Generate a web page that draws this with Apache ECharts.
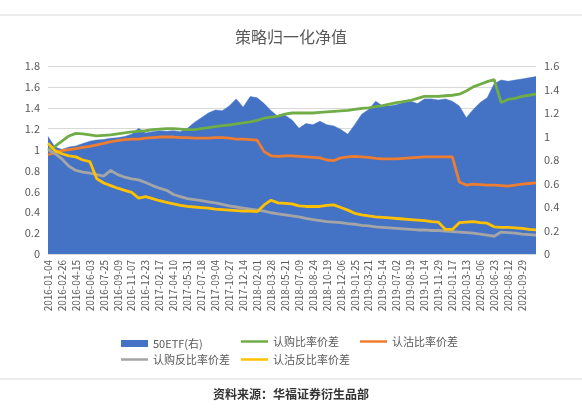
<!DOCTYPE html>
<html>
<head>
<meta charset="utf-8">
<script src="https://cdn.jsdelivr.net/npm/echarts@6/dist/echarts.min.js"></script>
<style>
  html, body { margin: 0; padding: 0; background: #fff; }
  #chart { width: 582px; height: 412px; }
</style>
</head>
<body>
<div id="chart"></div>
<script>
// sampled dates
const dates = [
  '2016-01-04','2016-02-01','2016-02-26','2016-03-22','2016-04-15','2016-05-11','2016-06-03','2016-06-29',
  '2016-07-25','2016-08-17','2016-09-09','2016-10-17','2016-11-07','2016-11-30','2016-12-23','2017-01-20',
  '2017-02-17','2017-03-15','2017-04-10','2017-05-05','2017-05-31','2017-06-23','2017-07-18','2017-08-10',
  '2017-09-04','2017-09-27','2017-10-27','2017-11-20','2017-12-14','2018-01-09','2018-02-01','2018-03-05',
  '2018-03-28','2018-04-25','2018-05-21','2018-06-13','2018-07-09','2018-08-01','2018-08-24','2018-09-18',
  '2018-10-19','2018-11-12','2018-12-06','2018-12-28','2019-01-25','2019-02-27','2019-03-21','2019-04-17',
  '2019-05-14','2019-06-06','2019-07-02','2019-07-25','2019-08-19','2019-09-11','2019-10-14','2019-11-06',
  '2019-11-29','2019-12-23','2020-01-17','2020-02-21','2020-03-13','2020-04-09','2020-05-06','2020-05-29',
  '2020-06-23','2020-07-17','2020-08-12','2020-09-04','2020-09-29','2020-10-23','2020-11-16'
];

// dates printed on the x axis
const tickLabels = [
  '2016-01-04','2016-02-26','2016-04-15','2016-06-03','2016-07-25','2016-09-09','2016-11-07','2016-12-23',
  '2017-02-17','2017-04-10','2017-05-31','2017-07-18','2017-09-04','2017-10-27','2017-12-14','2018-02-01',
  '2018-03-28','2018-05-21','2018-07-09','2018-08-24','2018-10-19','2018-12-06','2019-01-25','2019-03-21',
  '2019-05-14','2019-07-02','2019-08-19','2019-10-14','2019-11-29','2020-01-17','2020-03-13','2020-05-06',
  '2020-06-23','2020-08-12','2020-09-29'
];

// 50ETF, right axis
const etf = [
  1.00,0.91,0.89,0.91,0.92,0.94,0.96,0.97,0.975,0.985,0.99,1.00,1.02,1.07,1.03,1.04,
  1.05,1.045,1.05,1.04,1.07,1.12,1.16,1.20,1.225,1.22,1.26,1.32,1.25,1.34,1.33,1.28,
  1.22,1.17,1.18,1.14,1.07,1.11,1.10,1.13,1.10,1.09,1.06,1.02,1.10,1.19,1.23,1.30,
  1.26,1.26,1.27,1.29,1.30,1.28,1.32,1.32,1.31,1.32,1.30,1.26,1.16,1.23,1.29,1.33,
  1.45,1.48,1.47,1.48,1.49,1.50,1.51
];

// 认购比率价差
const callRatio = [
  1.00,1.03,1.08,1.13,1.155,1.15,1.14,1.13,1.135,1.14,1.15,1.16,1.17,1.175,1.18,1.19,
  1.195,1.20,1.20,1.195,1.19,1.19,1.20,1.21,1.22,1.23,1.235,1.245,1.255,1.265,1.28,1.30,
  1.31,1.32,1.34,1.35,1.35,1.35,1.35,1.355,1.36,1.365,1.37,1.375,1.385,1.395,1.40,1.41,
  1.42,1.435,1.45,1.46,1.47,1.49,1.51,1.51,1.51,1.515,1.52,1.53,1.56,1.60,1.625,1.65,
  1.67,1.45,1.48,1.49,1.51,1.52,1.53
];

// 认沽比率价差
const putRatio = [
  0.95,0.97,0.99,1.00,1.01,1.02,1.03,1.045,1.06,1.075,1.085,1.095,1.10,1.10,1.11,1.115,
  1.12,1.12,1.12,1.115,1.115,1.11,1.11,1.11,1.115,1.115,1.11,1.10,1.10,1.095,1.09,0.98,
  0.94,0.935,0.94,0.94,0.935,0.93,0.925,0.92,0.90,0.895,0.92,0.93,0.935,0.93,0.925,0.915,
  0.91,0.91,0.91,0.915,0.92,0.925,0.93,0.93,0.93,0.93,0.93,0.69,0.66,0.67,0.665,0.66,
  0.66,0.655,0.65,0.66,0.67,0.675,0.68
];

// 认购反比率价差
const callBack = [
  1.00,0.96,0.91,0.84,0.80,0.785,0.775,0.76,0.745,0.80,0.76,0.735,0.72,0.71,0.685,0.655,
  0.63,0.61,0.57,0.55,0.53,0.52,0.51,0.50,0.49,0.475,0.46,0.45,0.44,0.43,0.42,0.41,
  0.395,0.385,0.375,0.365,0.355,0.34,0.33,0.32,0.31,0.305,0.30,0.29,0.285,0.275,0.27,0.26,
  0.255,0.25,0.245,0.24,0.235,0.23,0.23,0.225,0.225,0.22,0.215,0.21,0.205,0.20,0.19,0.18,
  0.17,0.21,0.205,0.20,0.19,0.185,0.18
];

// 认沽反比率价差
const putBack = [
  1.06,0.99,0.96,0.94,0.93,0.90,0.885,0.72,0.68,0.655,0.63,0.61,0.59,0.535,0.55,0.53,
  0.51,0.495,0.48,0.465,0.455,0.45,0.445,0.44,0.43,0.425,0.42,0.415,0.41,0.41,0.405,0.47,
  0.515,0.49,0.485,0.48,0.46,0.455,0.455,0.455,0.465,0.47,0.445,0.42,0.39,0.375,0.364,0.355,
  0.35,0.345,0.34,0.335,0.33,0.325,0.32,0.31,0.305,0.235,0.235,0.30,0.305,0.31,0.30,0.295,
  0.26,0.255,0.255,0.25,0.245,0.235,0.23
];

const FONT = '"Noto Sans CJK SC", "Noto Sans", sans-serif';
const TXT = '#595959';

const lineSeries = (name, data, color) => ({
  name, type: 'line', data, yAxisIndex: 0,
  showSymbol: false, symbol: 'none',
  lineStyle: { width: 2.8, color },
  itemStyle: { color },
  emphasis: { disabled: true },
});

const legendItem = (name, left, top, isRect) => ({
  left, top,
  data: [{ name, icon: 'rect' }],
  itemWidth: 27, itemHeight: isRect ? 7 : 2.5,
  textStyle: { fontSize: 11, color: TXT, fontFamily: FONT },
  selectedMode: false,
});

const chart = echarts.init(document.getElementById('chart'));
chart.setOption({
  backgroundColor: '#fff',
  animation: false,
  textStyle: { fontFamily: FONT },
  title: {
    text: '策略归一化净值',
    left: 'center', top: 24,
    textStyle: { fontSize: 16, fontWeight: 'normal', color: TXT, fontFamily: FONT },
  },
  legend: [
    legendItem('50ETF(右)', 116, 333, true),
    legendItem('认购比率价差', 236, 331, false),
    legendItem('认沽比率价差', 355, 331, false),
    legendItem('认购反比率价差', 116, 349, false),
    legendItem('认沽反比率价差', 236, 349, false),
  ],
  grid: { left: 48, right: 46, top: 66, bottom: 158 },
  xAxis: {
    type: 'category',
    data: dates,
    boundaryGap: false,
    axisLine: { lineStyle: { color: '#D9D9D9' } },
    axisTick: { show: false },
    axisLabel: {
      interval: (idx, val) => tickLabels.indexOf(val) >= 0,
      rotate: 90, fontSize: 10, color: TXT, margin: 6, fontFamily: FONT,
    },
  },
  yAxis: [
    {
      type: 'value', min: 0, max: 1.8, interval: 0.2,
      axisLine: { show: false }, axisTick: { show: false },
      axisLabel: { fontSize: 11, color: TXT, margin: 8, fontFamily: FONT },
      splitLine: { lineStyle: { color: '#D9D9D9' } },
    },
    {
      type: 'value', min: 0, max: 1.6, interval: 0.2,
      axisLine: { show: false }, axisTick: { show: false },
      axisLabel: { fontSize: 11, color: TXT, margin: 8, fontFamily: FONT },
      splitLine: { show: false },
    },
  ],
  series: [
    {
      name: '50ETF(右)', type: 'line', data: etf, yAxisIndex: 1,
      showSymbol: false, symbol: 'none',
      lineStyle: { width: 0.5, color: '#4472C4' },
      itemStyle: { color: '#4472C4' },
      areaStyle: { color: '#4472C4', opacity: 1 },
      emphasis: { disabled: true },
    },
    lineSeries('认购比率价差', callRatio, '#70AD47'),
    lineSeries('认沽比率价差', putRatio, '#ED7D31'),
    lineSeries('认购反比率价差', callBack, '#A5A5A5'),
    lineSeries('认沽反比率价差', putBack, '#FFC000'),
  ],
  graphic: [
    { type: 'line', shape: { x1: 0, y1: 15, x2: 582, y2: 15 }, style: { stroke: '#D9D9D9', lineWidth: 1 } },
    { type: 'line', shape: { x1: 0, y1: 379, x2: 582, y2: 379 }, style: { stroke: '#D9D9D9', lineWidth: 1 } },
    {
      type: 'text', left: 'center', top: 388,
      style: { text: '资料来源：华福证券衍生品部', fontSize: 12, fontWeight: 'bold', fill: '#333', fontFamily: FONT },
    },
  ],
});
</script>
</body>
</html>
